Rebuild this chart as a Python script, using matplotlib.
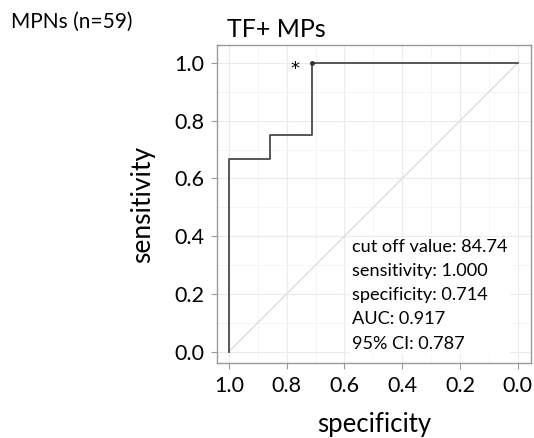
import matplotlib.pyplot as plt
from matplotlib.ticker import MultipleLocator

plt.rcParams['font.family'] = ['Lato', 'DejaVu Sans']

# ROC curve steps (specificity, sensitivity)
specificity = [1.0, 1.0, 0.857, 0.857, 0.714, 0.714, 0.0]
sensitivity = [0.0, 0.667, 0.667, 0.75, 0.75, 1.0, 1.0]
best_spec = 0.714
best_sens = 1.0
ticks = [1.0, 0.8, 0.6, 0.4, 0.2, 0.0]
stats_lines = ["cut off value: 84.74", "sensitivity: 1.000", "specificity: 0.714",
               "AUC: 0.917", "95% CI: 0.787"]

fig = plt.figure(figsize=(5.34, 4.38), dpi=100)
ax = fig.add_axes([0.406, 0.171, 0.588, 0.726])

ax.plot([1, 0], [0, 1], color='#dddddd', lw=1, zorder=1)
ax.plot(specificity, sensitivity, color='#4a4a4a', lw=1.3, zorder=3)
ax.plot(best_spec, best_sens, 'o', color='#333333', ms=2.5, zorder=4)
ax.text(best_spec + 0.058, best_sens - 0.02, '*', fontsize=13, ha='center', va='center',
        family='DejaVu Sans')

ax.set_xlim(1.042, -0.045)
ax.set_ylim(-0.04, 1.062)
ax.set_xticks(ticks)
ax.set_yticks(ticks)
ax.xaxis.set_minor_locator(MultipleLocator(0.1))
ax.yaxis.set_minor_locator(MultipleLocator(0.1))
ax.grid(True, which='major', color='#ebebeb', lw=0.8)
ax.grid(True, which='minor', color='#f4f4f4', lw=0.6)
ax.set_axisbelow(True)
for s in ax.spines.values():
    s.set_color('#999999')
    s.set_linewidth(1)
ax.tick_params(which='major', length=4, color='#999999', labelsize=15.5, labelcolor='black', pad=5)
ax.tick_params(which='minor', length=0)
ax.set_xticklabels(['1.0', '0.8', '0.6', '0.4', '0.2', '0.0'])
ax.set_yticklabels(['1.0', '0.8', '0.6', '0.4', '0.2', '0.0'])

ax.set_xlabel('specificity', fontsize=18.5, labelpad=12)
ax.set_ylabel('sensitivity', fontsize=19, labelpad=14)
ax.set_title('TF+ MPs', fontsize=18, pad=6, x=0.19)

ax.text(0.574, 0.0, "\n".join(stats_lines), fontsize=13.1, linespacing=1.62,
        ha='left', va='bottom', zorder=5,
        bbox=dict(facecolor='white', edgecolor='none', pad=2))

fig.text(0.02, 0.95, 'MPNs (n=59)', fontsize=15, ha='left', va='center')

fig.savefig('out.png', dpi=100)
